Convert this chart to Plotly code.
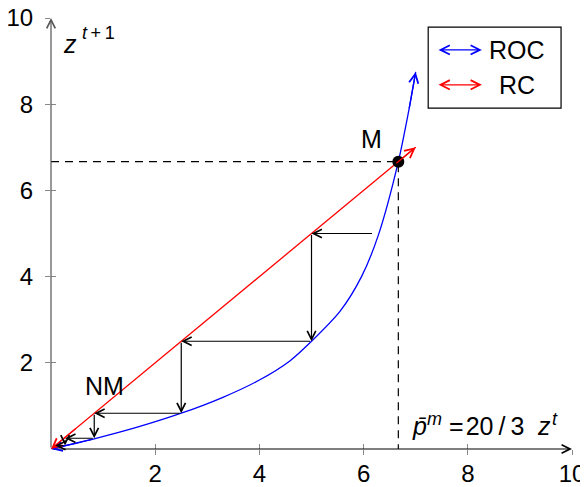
import plotly.graph_objects as go

# ---- data ----
roc_x = [0, 0.81, 1.64, 2.5, 3.3, 4.0, 4.59, 5.0, 5.55, 5.96, 6.28, 6.667, 6.87, 7.0]
roc_y = [0, 0.23, 0.5, 0.83, 1.2, 1.6, 2.05, 2.5, 3.2, 4.0, 4.95, 6.667, 7.87, 8.75]
rc_x = [0, 7]
rc_y = [0, 7]
eq_x = 20 / 3
eq_y = 20 / 3
stair_x = [6.19, 5.0, 5.0, 2.5, 2.5, 0.83, 0.83, 0.27, 0.27, 0.08]
stair_y = [5.0, 5.0, 2.5, 2.5, 0.83, 0.83, 0.25, 0.25, 0.08, 0.08]
tick_vals = [2, 4, 6, 8, 10]
tick_text = ["2", "4", "6", "8", "10"]
series_names = ["ROC", "RC"]
series_colors = ["#0000ff", "#ff0000"]

FONT = "Liberation Sans"
TFS = 24
LFS = 25
SFS = 18

fig = go.Figure()

fig.add_trace(go.Scatter(x=roc_x, y=roc_y, mode="lines",
                         line=dict(color=series_colors[0], width=1.3, shape="spline", smoothing=0.8),
                         hoverinfo="skip", showlegend=False))
fig.add_trace(go.Scatter(x=rc_x, y=rc_y, mode="lines", line=dict(color=series_colors[1], width=1.3),
                         hoverinfo="skip", showlegend=False))
# dashed guides
fig.add_trace(go.Scatter(x=[0, eq_x, eq_x], y=[eq_y, eq_y, 0], mode="lines",
                         line=dict(color="black", width=1.2, dash="8px,6px"), hoverinfo="skip", showlegend=False))
fig.add_trace(go.Scatter(x=[eq_x], y=[eq_y], mode="markers", marker=dict(color="black", size=12),
                         cliponaxis=False, hoverinfo="skip", showlegend=False))

ann = []


def arrow(x0, y0, x1, y1, color, width=1.2, side="end", head=5, size=1.4):
    ann.append(dict(x=x1, y=y1, ax=x0, ay=y0, xref="x", yref="y", axref="x", ayref="y",
                    showarrow=True, arrowhead=head, startarrowhead=head, arrowside=side,
                    arrowsize=size, startarrowsize=size, arrowwidth=width, arrowcolor=color,
                    standoff=0, startstandoff=0, text=""))


def label(x, y, text, size=LFS, xanchor="left"):
    ann.append(dict(x=x, y=y, xref="x", yref="y", xanchor=xanchor, yanchor="middle", showarrow=False,
                    text=text, font=dict(family=FONT, size=size, color="black")))


# axes with arrows
arrow(0, 0, 10, 0, "black", width=1.2)
arrow(0, 0, 0, 10, "#555555", width=1.2)

# curve end arrows
arrow(roc_x[-2], roc_y[-2], roc_x[-1], roc_y[-1], series_colors[0], width=1.3)
arrow(roc_x[1], roc_y[1], roc_x[0], roc_y[0], series_colors[0], width=1.3)
arrow(6.6, 6.6, rc_x[-1], rc_y[-1], series_colors[1], width=1.3)
arrow(0.5, 0.5, rc_x[0], rc_y[0], series_colors[1], width=1.3)

# cobweb staircase
for i in range(len(stair_x) - 1):
    arrow(stair_x[i], stair_y[i], stair_x[i + 1], stair_y[i + 1], "black", width=1.2)

# legend (custom, double arrows)
arrow(7.41, 9.26, 8.27, 9.26, series_colors[0], width=1.3, side="end+start")
arrow(7.41, 8.45, 8.27, 8.45, series_colors[1], width=1.3, side="end+start")
label(8.94, 9.26, series_names[0], xanchor="center")
label(8.94, 8.45, series_names[1], xanchor="center")

# axis labels (superscripts as separate texts)
label(0.2, 9.4, "<i>z</i>")
label(0.55, 9.66, "<i>t</i>\u2009+\u20091", size=SFS)
label(6.89, 0.53, "<i>p̄</i>")
label(7.18, 0.7, "<i>m</i>", size=SFS)
label(7.6, 0.53, "=\u200a20\u2009/\u20093")
label(9.29, 0.53, "<i>z</i>")
label(9.58, 0.7, "<i>t</i>", size=SFS)
label(6.16, 7.2, "M", xanchor="center")
label(1.02, 1.46, "NM", xanchor="center")

shapes = [dict(type="rect", xref="x", yref="y", x0=7.24, x1=9.79, y0=7.91, y1=9.79,
               line=dict(color="black", width=1.2), fillcolor="white", layer="below")]

axis_common = dict(range=[0, 10], showgrid=False, zeroline=False, showline=False, automargin=False,
                   tickvals=tick_vals, ticktext=tick_text, ticklen=5, tickwidth=1, tickcolor="#888888",
                   tickfont=dict(family=FONT, size=TFS, color="black"), fixedrange=True,
                   ticklabeloverflow="allow")

fig.update_layout(
    width=580, height=479,
    margin=dict(l=43, r=16, t=10, b=38, autoexpand=False),
    paper_bgcolor="white", plot_bgcolor="white",
    xaxis=dict(**axis_common, ticks="outside", ticklabelstandoff=-2),
    yaxis=dict(**axis_common, ticks="outside", ticklabelstandoff=7),
    xaxis2=dict(range=[0, 10], overlaying="x", anchor="y", side="bottom", showgrid=False, zeroline=False,
                automargin=False, tickvals=tick_vals, ticks="inside", ticklen=5, tickcolor="#888888",
                showticklabels=False),
    yaxis2=dict(range=[0, 10], overlaying="y", anchor="x", side="left", showgrid=False, zeroline=False,
                automargin=False, tickvals=tick_vals, ticks="inside", ticklen=5, tickcolor="#888888",
                showticklabels=False),
    annotations=ann, shapes=shapes, showlegend=False,
)
# dummy trace to activate overlay axes
fig.add_trace(go.Scatter(x=[None], y=[None], xaxis="x2", yaxis="y2", showlegend=False, hoverinfo="skip"))

fig.write_html("out.html")
